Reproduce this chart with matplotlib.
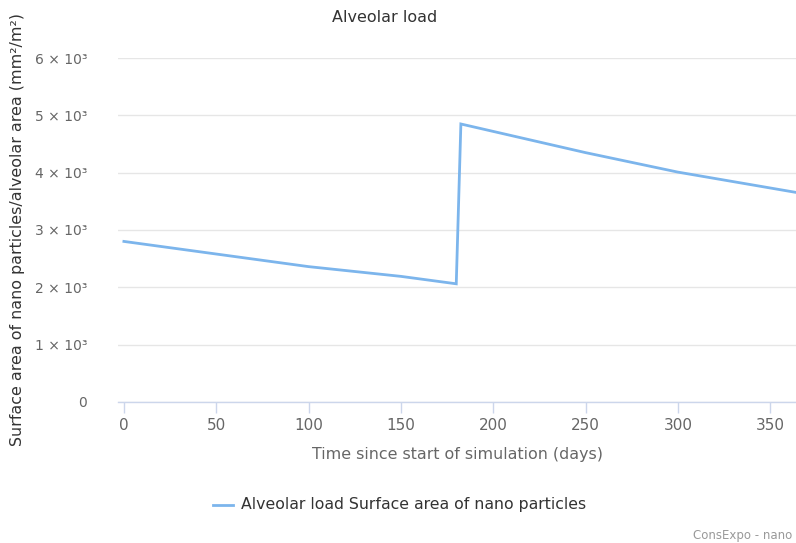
import matplotlib
matplotlib.use("Agg")
import matplotlib.pyplot as plt
from matplotlib.ticker import FuncFormatter
from matplotlib.lines import Line2D

# values
days = [0, 50, 100, 150, 180, 182.5, 250, 300, 365]
load = [2800, 2580, 2360, 2190, 2060, 4850, 4350, 4010, 3650]
yticks = [0, 1000, 2000, 3000, 4000, 5000, 6000]
xticks = [0, 50, 100, 150, 200, 250, 300, 350]


def sci(v, pos):
    if v == 0:
        return "0"
    return "%d × 10³" % round(v / 1000)

plt.rcParams["font.family"] = "DejaVu Sans"
fig = plt.figure(figsize=(7.96, 5.43), dpi=100)
ax = fig.add_axes([0.148, 0.26, 0.852, 0.633])

ax.plot(days, load, color="#7cb5ec", linewidth=2.0, clip_on=False, solid_joinstyle="miter")

ax.set_xlim(-3.3, 364)
ax.set_ylim(0, 6000)
ax.set_yticks(yticks)
ax.set_xticks(xticks)
ax.yaxis.set_major_formatter(FuncFormatter(sci))
ax.yaxis.grid(True, color="#e6e6e6", linewidth=1)
ax.set_axisbelow(True)

for s in ["top", "right", "left"]:
    ax.spines[s].set_visible(False)
ax.spines["bottom"].set_color("#ccd6eb")
ax.spines["bottom"].set_linewidth(1)

ax.tick_params(axis="y", length=0, pad=22, labelsize=10, labelcolor="#666666")
ax.tick_params(axis="x", length=8, width=1, color="#ccd6eb", pad=4,
               labelsize=11, labelcolor="#666666")

fig.text(385 / 796, 1 - 18 / 543, "Alveolar load", ha="center", va="center",
         fontsize=11.5, color="#333333")
fig.text(18 / 796, 1 - 230 / 543,
         "Surface area of nano particles/alveolar area (mm²/m²)",
         rotation=90, ha="center", va="center", fontsize=11.4, color="#333333")
fig.text(458 / 796, 1 - 454 / 543, "Time since start of simulation (days)",
         ha="center", va="center", fontsize=11.4, color="#666666")

# legend
fig.add_artist(Line2D([213 / 796, 233 / 796], [1 - 505 / 543, 1 - 505 / 543],
                      color="#7cb5ec", linewidth=2.0, transform=fig.transFigure))
fig.text(241 / 796, 1 - 505 / 543, "Alveolar load Surface area of nano particles",
         ha="left", va="center", fontsize=11.3, color="#333333")

fig.text(693 / 796, 1 - 536 / 543, "ConsExpo - nano", ha="left", va="center",
         fontsize=8.5, color="#999999")

fig.savefig("out.png", dpi=100)
